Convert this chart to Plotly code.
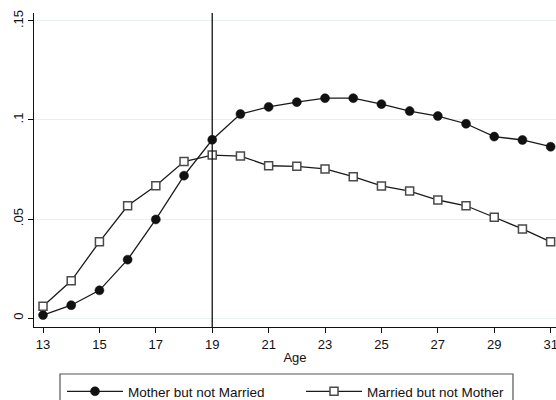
import plotly.graph_objects as go

# Share of women by age in each status
ages = list(range(13, 32))
mother_not_married = [0.0015, 0.0065, 0.014, 0.0295, 0.0498, 0.0719, 0.0900, 0.1030,
                      0.1066, 0.1090, 0.1110, 0.1110, 0.1080, 0.1045, 0.1020,
                      0.0981, 0.0916, 0.0899, 0.0865]
married_not_mother = [0.0060, 0.0188, 0.0385, 0.0567, 0.0668, 0.0790, 0.0823, 0.0818,
                      0.0769, 0.0766, 0.0753, 0.0714, 0.0667, 0.0641, 0.0596,
                      0.0567, 0.0509, 0.0450, 0.0385]
x_ticks = [13, 15, 17, 19, 21, 23, 25, 27, 29, 31]
y_ticks = [0, 0.05, 0.10, 0.15]
y_tick_text = ["0", ".05", ".1", ".15"]
cutoff_age = 19

font_family = "Liberation Sans, Arial, sans-serif"

fig = go.Figure()
fig.add_trace(go.Scatter(
    x=ages, y=mother_not_married, mode="lines+markers",
    name="Mother but not Married",
    line=dict(color="#1a1a1a", width=1.3),
    marker=dict(symbol="circle", size=9, color="#111111",
                line=dict(color="#111111", width=0.5)),
    cliponaxis=False,
))
fig.add_trace(go.Scatter(
    x=ages, y=married_not_mother, mode="lines+markers",
    name="Married but not Mother",
    line=dict(color="#1a1a1a", width=1.3),
    marker=dict(symbol="square", size=8, color="white",
                line=dict(color="#4a4a4a", width=1.5)),
    cliponaxis=False,
))

# vertical reference line at age 19
fig.add_shape(type="line", xref="x", yref="paper",
              x0=cutoff_age, x1=cutoff_age, y0=0, y1=1,
              line=dict(color="#111111", width=1.3), layer="above")

# legend frame
fig.add_shape(type="rect", xref="paper", yref="paper",
              x0=(60 - 34) / 522, x1=(513 - 34) / 522,
              y0=(327 - 430) / 314, y1=(327 - 374) / 314,
              line=dict(color="#555555", width=1.2), fillcolor="rgba(0,0,0,0)")

fig.update_layout(
    width=556, height=400,
    margin=dict(l=34, r=0, t=13, b=73, autoexpand=False),
    plot_bgcolor="white", paper_bgcolor="white",
    font=dict(family=font_family, size=13, color="#111111"),
    showlegend=True,
    legend=dict(
        orientation="h",
        xref="container", yref="container",
        x=62 / 556, xanchor="left",
        y=(400 - 376) / 400, yanchor="top",
        font=dict(size=13.5, family=font_family, color="#111111"),
        bgcolor="rgba(0,0,0,0)", borderwidth=0,
        itemwidth=56, entrywidth=168, entrywidthmode="pixels",
        traceorder="normal",
    ),
    xaxis=dict(
        range=[12.68, 31.19],
        tickmode="array", tickvals=x_ticks,
        ticks="outside", ticklen=5, tickwidth=1, tickcolor="#111111",
        ticklabeloverflow="allow",
        showline=True, linecolor="#111111", linewidth=1,
        showgrid=False, zeroline=False,
        title=dict(text="Age", standoff=2, font=dict(size=13)),
        tickfont=dict(size=13),
        automargin=False,
    ),
    yaxis=dict(
        range=[-0.0045, 0.154],
        tickmode="array", tickvals=y_ticks, ticktext=y_tick_text,
        tickangle=-90,
        ticks="outside", ticklen=5, tickwidth=1, tickcolor="#111111",
        showline=True, linecolor="#111111", linewidth=1,
        showgrid=True, gridcolor="#e9f0f0", gridwidth=1,
        zeroline=False,
        tickfont=dict(size=13),
        automargin=False,
    ),
)

fig.write_html("out.html")
